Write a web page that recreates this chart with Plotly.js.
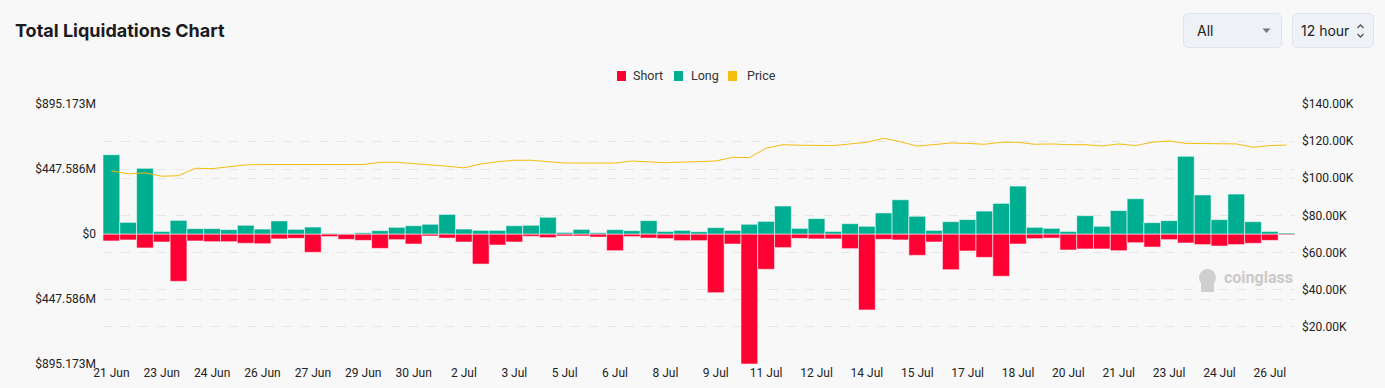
<!DOCTYPE html>
<html>
<head>
<meta charset="utf-8">
<script src="https://cdn.plot.ly/plotly-3.0.1.min.js"></script>
<style>
  html, body { margin: 0; padding: 0; background: #f8f8f8; }
  #wrap { position: relative; width: 1385px; height: 388px; }
  #chart { position: absolute; left: 0; top: 0; width: 1385px; height: 388px; }
  .sel { position: absolute; top: 13px; height: 33px; background: #eef1f6; border: 1px solid #dfe5ee;
         border-radius: 5px; font-family: Inter, 'Noto Sans', sans-serif; font-size: 14px; color: #222;
         line-height: 33px; box-sizing: content-box; }
  .sel svg { position: absolute; }
</style>
</head>
<body>
<div id="wrap">
  <div id="chart"></div>
  <div class="sel" style="left:1183px; width:97px;"><span style="position:absolute; left:13px;">All</span>
    <svg style="left:78px; top:14px;" width="9" height="6" viewBox="0 0 9 6"><path d="M0.5 0.5 L8.5 0.5 L4.5 5 Z" fill="#777"/></svg></div>
  <div class="sel" style="left:1292px; width:80px;"><span style="position:absolute; left:8px;">12 hour</span>
    <svg style="left:63px; top:9px;" width="9" height="16" viewBox="0 0 9 16"><path d="M1.5 5 L4.5 2 L7.5 5 M1.5 11 L4.5 14 L7.5 11" stroke="#555" stroke-width="1.3" fill="none"/></svg></div>
</div>
<script>
// 12-hour buckets, 21 Jun 2025 12:00 -> 26 Jul 2025 12:00
const times = [
 "2025-06-21 12:00","2025-06-22 00:00","2025-06-22 12:00","2025-06-23 00:00","2025-06-23 12:00",
 "2025-06-24 00:00","2025-06-24 12:00","2025-06-25 00:00","2025-06-25 12:00","2025-06-26 00:00",
 "2025-06-26 12:00","2025-06-27 00:00","2025-06-27 12:00","2025-06-28 00:00","2025-06-28 12:00",
 "2025-06-29 00:00","2025-06-29 12:00","2025-06-30 00:00","2025-06-30 12:00","2025-07-01 00:00",
 "2025-07-01 12:00","2025-07-02 00:00","2025-07-02 12:00","2025-07-03 00:00","2025-07-03 12:00",
 "2025-07-04 00:00","2025-07-04 12:00","2025-07-05 00:00","2025-07-05 12:00","2025-07-06 00:00",
 "2025-07-06 12:00","2025-07-07 00:00","2025-07-07 12:00","2025-07-08 00:00","2025-07-08 12:00",
 "2025-07-09 00:00","2025-07-09 12:00","2025-07-10 00:00","2025-07-10 12:00","2025-07-11 00:00",
 "2025-07-11 12:00","2025-07-12 00:00","2025-07-12 12:00","2025-07-13 00:00","2025-07-13 12:00",
 "2025-07-14 00:00","2025-07-14 12:00","2025-07-15 00:00","2025-07-15 12:00","2025-07-16 00:00",
 "2025-07-16 12:00","2025-07-17 00:00","2025-07-17 12:00","2025-07-18 00:00","2025-07-18 12:00",
 "2025-07-19 00:00","2025-07-19 12:00","2025-07-20 00:00","2025-07-20 12:00","2025-07-21 00:00",
 "2025-07-21 12:00","2025-07-22 00:00","2025-07-22 12:00","2025-07-23 00:00","2025-07-23 12:00",
 "2025-07-24 00:00","2025-07-24 12:00","2025-07-25 00:00","2025-07-25 12:00","2025-07-26 00:00",
 "2025-07-26 12:00"
];

// Long liquidations, $M
const longVals = [
 546, 80, 452, 18, 94, 37, 37, 30, 60, 34,
 90, 32, 48, 5, 2, 9, 23, 46, 57, 67,
 135, 34, 25, 25, 57, 60, 115, 11, 32, 9,
 30, 23, 92, 18, 25, 16, 44, 25, 67, 87,
 193, 39, 106, 18, 71, 53, 145, 236, 122, 25,
 85, 99, 158, 211, 330, 46, 39, 18, 126, 53,
 161, 243, 78, 92, 535, 269, 99, 275, 85, 18,
 7
];

// Short liquidations, $M (drawn below zero)
const shortVals = [
 48, 41, 96, 55, 326, 48, 53, 53, 64, 67,
 34, 30, 126, 18, 37, 44, 99, 39, 69, 14,
 28, 55, 207, 76, 55, 16, 25, 14, 14, 21,
 115, 18, 28, 32, 46, 46, 404, 69, 895.173, 243,
 94, 30, 34, 34, 101, 523, 37, 41, 147, 55,
 246, 117, 161, 291, 69, 32, 28, 110, 103, 103,
 115, 60, 90, 39, 62, 73, 83, 73, 64, 44,
 7
];

// BTC price, $
const priceVals = [
 104000, 102400, 102900, 101100, 101400, 105400, 105200, 106100, 107200, 107400,
 107400, 107000, 107000, 107200, 107400, 107400, 108600, 108600, 107900, 107400,
 106500, 105600, 107700, 108900, 109700, 109700, 108900, 108200, 108200, 108200,
 108200, 109300, 108700, 108400, 108700, 109100, 109300, 111300, 111100, 116200,
 118100, 117800, 117800, 117600, 118500, 119400, 121500, 119700, 117300, 118100,
 119000, 118800, 118300, 119400, 119400, 118300, 118500, 118100, 118100, 117400,
 118500, 117600, 119400, 120100, 118800, 118700, 118700, 118500, 116700, 117600,
 117900
];

const leftTicks = [-895.173, -447.586, 0, 447.586, 895.173];
const leftTickText = ["$895.173M", "$447.586M", "$0", "$447.586M", "$895.173M"];
const rightTicks = [20000, 40000, 60000, 80000, 100000, 120000, 140000];
const rightTickText = ["$20.00K", "$40.00K", "$60.00K", "$80.00K", "$100.00K", "$120.00K", "$140.00K"];
const legendNames = ["Short", "Long", "Price"];

const RED = "#ff0033", GREEN = "#00ae91", GOLD = "#f5bd0e";
const legendColors = [RED, GREEN, GOLD];

const traces = [
  { type: "bar", name: "Short", x: times, y: shortVals.map(v => -v),
    marker: { color: RED, line: { color: "rgba(255,255,255,0.55)", width: 1 } }, yaxis: "y" },
  { type: "bar", name: "Long", x: times, y: longVals,
    marker: { color: GREEN, line: { color: "rgba(255,255,255,0.55)", width: 1 } }, yaxis: "y" },
  { type: "scatter", mode: "lines", name: "Price", x: times, y: priceVals, yaxis: "y2",
    line: { color: GOLD, width: 1 } }
];

const W = 1385, H = 388, L = 103, R = 1295, T = 104, B = 364;
const px = v => (v - L) / (R - L);
const py = v => (B - v) / (B - T);

// legend layout (pixel anchors)
const legSquareX = [617, 674, 728];
const legTextX = [631, 689, 745];
const shapes = [];
const annotations = [];
legendNames.forEach((n, i) => {
  shapes.push({ type: "rect", xref: "paper", yref: "paper", x0: px(legSquareX[i]), x1: px(legSquareX[i] + 9),
                y0: py(81), y1: py(71), fillcolor: legendColors[i], line: { width: 0 } });
  annotations.push({ text: n, xref: "paper", yref: "paper", x: px(legTextX[i]), y: py(75.5),
                     xanchor: "left", yanchor: "middle", showarrow: false,
                     font: { family: "Roboto, sans-serif", size: 12.5, color: "#333" } });
});
annotations.push({ text: "coinglass", xref: "paper", yref: "paper", x: px(1222), y: py(277), xanchor: "left", yanchor: "middle",
  showarrow: false, font: { family: "Roboto, sans-serif", size: 16, color: "#c9c9c9", weight: 700 } });
shapes.push(
  { type: "circle", xref: "paper", yref: "paper", x0: px(1199), x1: px(1216), y0: py(286), y1: py(269),
    fillcolor: "#cfcfcf", line: { width: 0 } },
  { type: "rect", xref: "paper", yref: "paper", x0: px(1201), x1: px(1214), y0: py(292), y1: py(282),
    fillcolor: "#cfcfcf", line: { width: 0 } }
);

const layout = {
  width: W, height: H,
  margin: { l: L, r: W - R, t: T, b: H - B },
  paper_bgcolor: "#f8f8f8", plot_bgcolor: "#f8f8f8",
  font: { family: "Roboto, 'Noto Sans', sans-serif", size: 12, color: "#222" },
  title: { text: "Total Liquidations Chart", x: 15 / W, xanchor: "left", xref: "container",
           y: 1 - 31 / H, yanchor: "middle", yref: "container",
           font: { family: "Inter, 'Noto Sans', sans-serif", size: 18, color: "#1b1b1f", weight: 700 } },
  barmode: "relative", bargap: 0,
  showlegend: false,
  xaxis: { type: "date", range: ["2025-06-21 06:00", "2025-07-26 18:00"],
           tick0: "2025-06-21 12:00", dtick: 129600000, tickformat: "%-d %b",
           showgrid: false, zeroline: false, showline: false, ticks: "",
           tickfont: { size: 12, color: "#222" } },
  yaxis: { range: [-895.173, 895.173], tickvals: leftTicks, ticktext: leftTickText,
           showgrid: true, gridcolor: "#e6e6e6", griddash: "dash", zeroline: false,
           ticks: "", ticklabelstandoff: 6, tickfont: { size: 12, color: "#222" }, fixedrange: true },
  yaxis2: { overlaying: "y", side: "right", range: [0, 140000], tickvals: rightTicks, ticktext: rightTickText,
            showgrid: true, gridcolor: "#e6e6e6", griddash: "dash", zeroline: false,
            ticks: "", ticklabelstandoff: 6, tickfont: { size: 12, color: "#222" } },
  annotations: annotations,
  shapes: shapes
};

Plotly.newPlot("chart", traces, layout, { displayModeBar: false, staticPlot: true });
</script>
</body>
</html>
